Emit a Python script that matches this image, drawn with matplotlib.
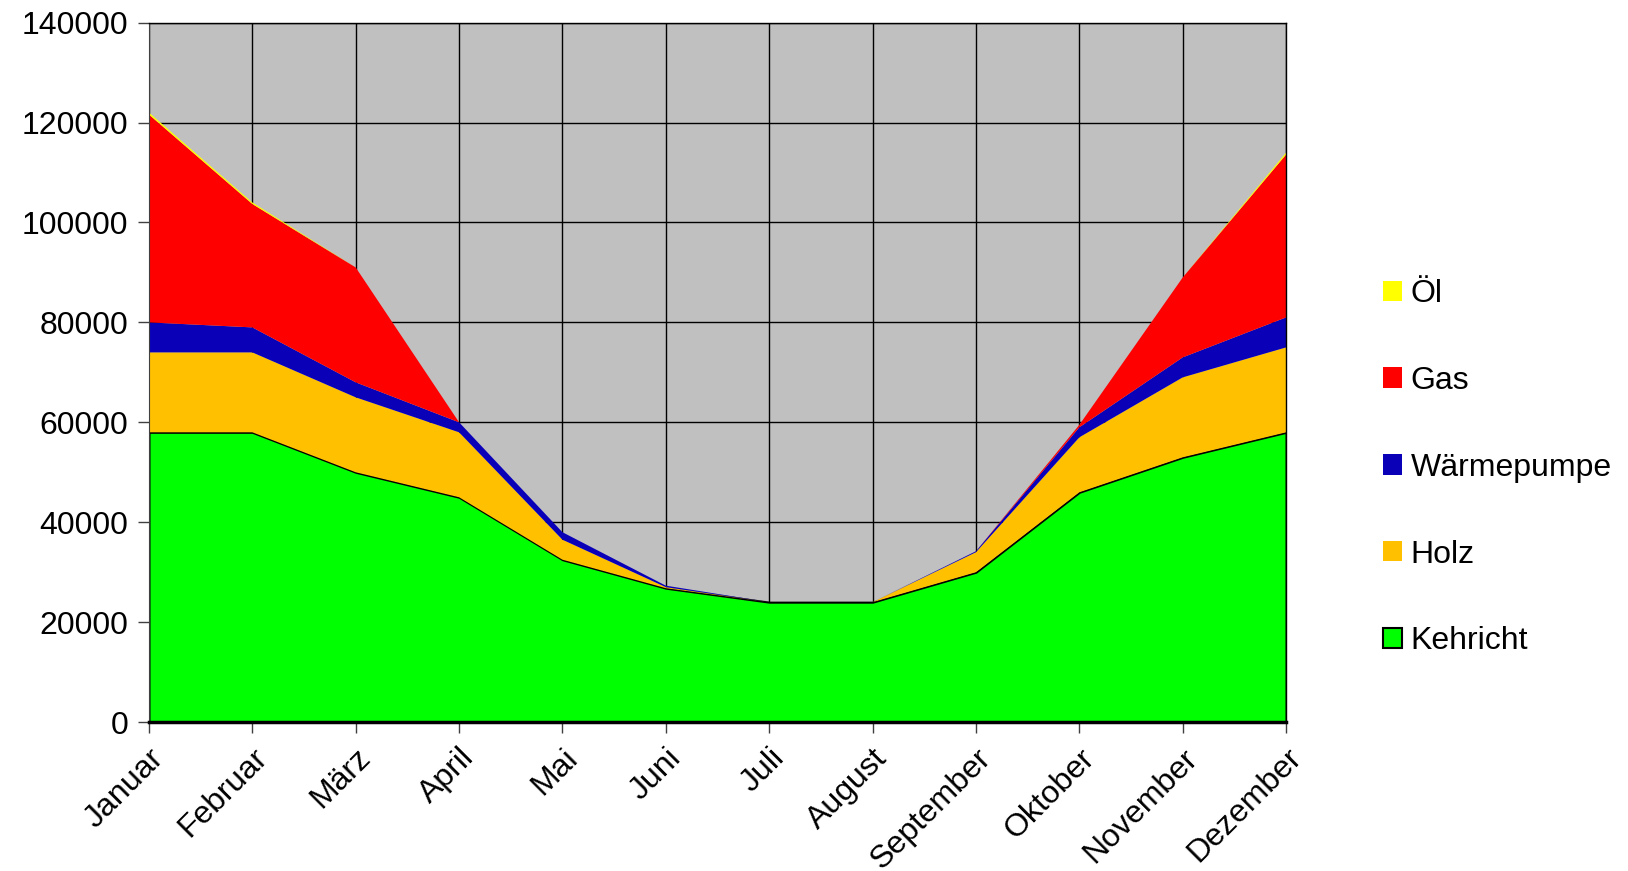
import matplotlib.pyplot as plt
from matplotlib.patches import Patch

plt.rcParams['font.family'] = ['Liberation Sans', 'DejaVu Sans']

months = ['Januar', 'Februar', 'März', 'April', 'Mai', 'Juni', 'Juli',
          'August', 'September', 'Oktober', 'November', 'Dezember']

kehricht = [58000, 58000, 50000, 45000, 32500, 26800, 24000, 24000, 30000, 46000, 53000, 58000]
holz = [16000, 16000, 15000, 13000, 4000, 200, 0, 0, 4000, 11000, 16000, 17000]
waermepumpe = [6000, 5000, 3000, 2000, 1500, 300, 0, 0, 200, 2000, 4000, 6000]
gas = [41600, 24700, 23000, 0, 0, 0, 0, 0, 0, 500, 16000, 32600]
oel = [400, 300, 0, 0, 0, 0, 0, 0, 0, 0, 0, 400]

labels = ['Kehricht', 'Holz', 'Wärmepumpe', 'Gas', 'Öl']
colors = ['#00FF00', '#FFC000', '#0A00B8', '#FF0000', '#FFFF00']
y_ticks = [0, 20000, 40000, 60000, 80000, 100000, 120000, 140000]

fig = plt.figure(figsize=(16.28, 8.71), dpi=100)
ax = fig.add_axes([0.0915, 0.171, 0.6985, 0.803])
ax.set_facecolor('#C0C0C0')

x = list(range(len(months)))
polys = ax.stackplot(x, kehricht, holz, waermepumpe, gas, oel, colors=colors, linewidth=0)
polys[0].set_edgecolor('black')
polys[0].set_linewidth(1.5)

ax.set_xlim(0, len(months) - 1)
ax.set_ylim(0, 140000)
ax.set_xticks(x)
ax.set_xticklabels(months, rotation=45, ha='right', rotation_mode='anchor', fontsize=23)
ax.set_yticks(y_ticks)
ax.set_yticklabels([str(v) for v in y_ticks], fontsize=23)
ax.tick_params(axis='both', direction='out', length=8, width=1, color='#404040', pad=7)

ax.set_axisbelow(True)
ax.grid(True, color='black', linewidth=1)
for side in ['top', 'right']:
    ax.spines[side].set_color('black')
    ax.spines[side].set_linewidth(1)
ax.spines['left'].set_color('#404040')
ax.spines['bottom'].set_color('black')
ax.spines['bottom'].set_linewidth(2.5)

handles = [Patch(facecolor=c, edgecolor=('black' if l == 'Kehricht' else c), linewidth=1.5 if l == 'Kehricht' else 0)
           for l, c in zip(labels, colors)]
leg = fig.legend(handles[::-1], labels[::-1], loc='center left', bbox_to_anchor=(0.832, 0.463),
                 frameon=False, fontsize=23, handlelength=0.6, handleheight=0.6,
                 handletextpad=0.25, labelspacing=1.78)

fig.savefig('out.png', dpi=100)
